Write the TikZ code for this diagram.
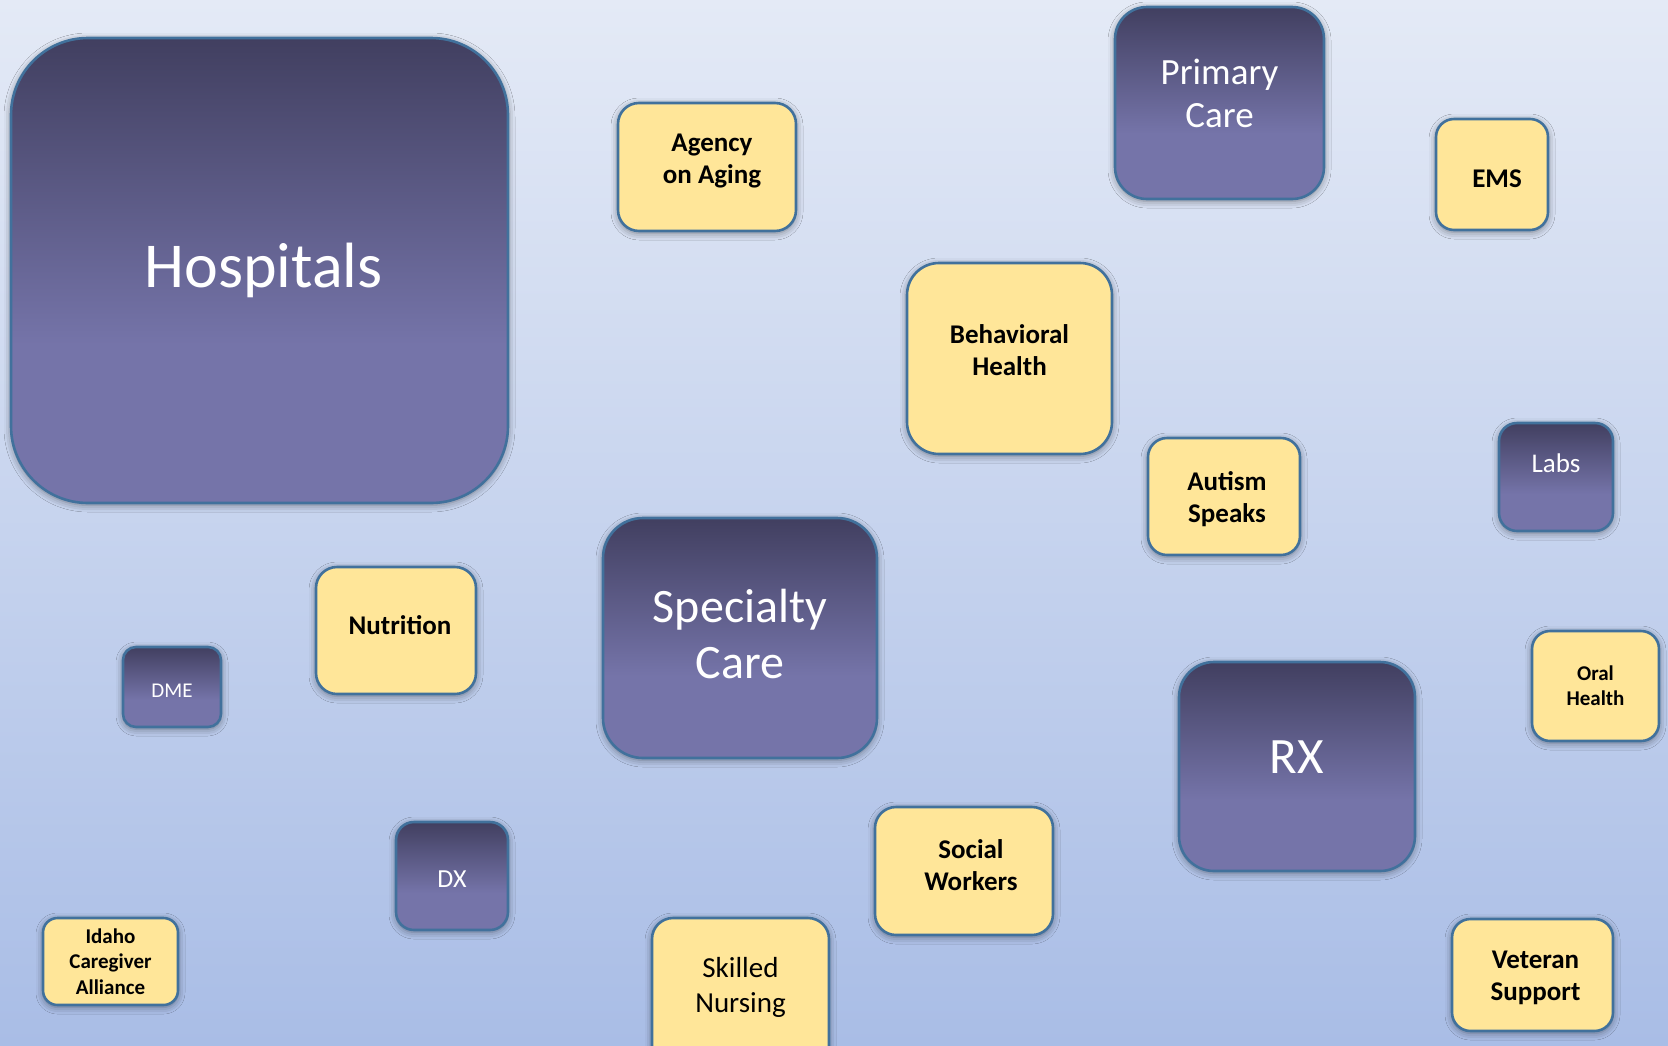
\documentclass[tikz,border=0pt]{standalone}
\usepackage{fontspec}
\setmainfont{Carlito}
\usetikzlibrary{shadows.blur}

\definecolor{bgtop}{HTML}{E4EAF6}
\definecolor{bgbot}{HTML}{A9BDE6}
\definecolor{purptop}{HTML}{413F60}
\definecolor{purpbot}{HTML}{7574A9}
\definecolor{cardfill}{HTML}{FFE699}
\definecolor{edge}{HTML}{41719C}
\pgfdeclareverticalshading{purpleshade}{100bp}{color(0bp)=(purpbot); color(42bp)=(purpbot); color(75bp)=(purptop); color(100bp)=(purptop)}
\newcommand{\boxfont}[2]{\fontsize{#1}{#2}\selectfont}
% extra height / extra depth round a label, to move it off centre
\newcommand{\pad}[3]{\raisebox{0pt}[\dimexpr\height+#1\relax][\dimexpr\depth+#2\relax]{#3}}
\newcommand{\padlines}[3]{\pad{#1}{#2}{\begin{tabular}{@{}c@{}}#3\end{tabular}}}

\begin{document}
\begin{tikzpicture}[
  x=1pt,y=-1pt,
  box/.style={draw=edge,line width=2.6pt,align=center,inner sep=0pt,
    blur shadow={shadow xshift=0pt,shadow yshift=-2pt,shadow blur radius=7pt,shadow opacity=45}},
  dark/.style={box,shading=purpleshade,text=white},
  light/.style={box,fill=cardfill,text=black,font=\bfseries\boxfont{27}{32}}
]
  \useasboundingbox (0,0) rectangle (1668,1045);
  \clip (0,0) rectangle (1668,1045);
  \fill[top color=bgtop,bottom color=bgbot] (0,0) rectangle (1668,1045);

  % providers (dark boxes)
  \node[dark,minimum width=497pt,minimum height=465pt,rounded corners=77pt,font=\boxfont{64}{77}] (hosp) at (259.5,270.5) {\hspace*{8pt}Hospitals};
  \node[dark,minimum width=209pt,minimum height=192pt,rounded corners=32pt,font=\boxfont{37}{43}] (primary) at (1219.5,103) {\padlines{0pt}{10.6pt}{Primary\\Care}};
  \node[dark,minimum width=274pt,minimum height=240pt,rounded corners=40pt,font=\boxfont{48}{56}] (spec) at (740,638) {\padlines{2pt}{0pt}{Specialty\\Care}};
  \node[dark,minimum width=236pt,minimum height=209pt,rounded corners=35pt,font=\boxfont{51}{61}] (rx) at (1297,766.5) {\pad{0pt}{19pt}{RX}};
  \node[dark,minimum width=114pt,minimum height=108pt,rounded corners=18pt,font=\boxfont{27}{32}] (labs) at (1556,477) {\pad{0pt}{28pt}{Labs}};
  \node[dark,minimum width=98pt,minimum height=80pt,rounded corners=13pt,font=\boxfont{21}{25}] (dme) at (172,687) {\pad{8.5pt}{0pt}{DME}};
  \node[dark,minimum width=112pt,minimum height=108pt,rounded corners=18pt,font=\boxfont{26}{32}] (dx) at (452,876) {\pad{6.5pt}{0pt}{DX}};

  % community partners (light boxes)
  \node[light,minimum width=178pt,minimum height=128pt,rounded corners=21pt] (agency) at (707,167) {\hspace*{10pt}\padlines{0pt}{11pt}{Agency\\on Aging}};
  \node[light,minimum width=112pt,minimum height=111pt,rounded corners=18pt] (ems) at (1492,174.5) {\hspace*{10pt}\pad{8.5pt}{0pt}{EMS}};
  \node[light,minimum width=205pt,minimum height=191pt,rounded corners=32pt] (behav) at (1009.5,358.5) {\padlines{0pt}{11pt}{Behavioral\\Health}};
  \node[light,minimum width=152pt,minimum height=117pt,rounded corners=19pt] (autism) at (1224,496.5) {\hspace*{6pt}\padlines{8pt}{0pt}{Autism\\Speaks}};
  \node[light,minimum width=160pt,minimum height=127pt,rounded corners=21pt] (nutri) at (396,630.5) {\hspace*{8pt}\pad{0pt}{11pt}{Nutrition}};
  \node[light,minimum width=127pt,minimum height=110pt,rounded corners=18pt,font=\bfseries\boxfont{21}{25}] (oral) at (1595.5,686) {Oral\\Health};
  \node[light,minimum width=178pt,minimum height=128pt,rounded corners=21pt] (social) at (964,871) {\hspace*{14pt}\padlines{0pt}{5pt}{Social\\Workers}};
  \node[light,minimum width=135pt,minimum height=87pt,rounded corners=14.5pt,font=\bfseries\boxfont{21}{25.5}] (idaho) at (110.5,961.5) {Idaho\\Caregiver\\Alliance};
  \node[light,minimum width=161pt,minimum height=112pt,rounded corners=18.5pt] (veteran) at (1532.5,975) {\hspace*{6pt}\padlines{7pt}{0pt}{Veteran\\Support}};
  \node[light,minimum width=177pt,minimum height=164pt,rounded corners=21pt,
    label={[align=center,font=\boxfont{29}{35},yshift=13pt]center:{Skilled\\Nursing}}] (skilled) at (740.5,1000) {};
\end{tikzpicture}
\end{document}
